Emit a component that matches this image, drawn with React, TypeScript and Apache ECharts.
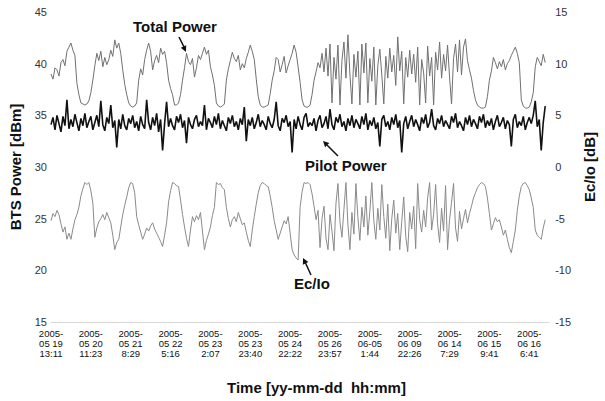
import React, { useEffect, useRef } from 'react';
import * as echarts from 'echarts';

// x-axis tick labels (one every 10 x-units)
const tickLabels = [
  '2005-\n05 19\n13:11', '2005-\n05 20\n11:23', '2005-\n05 21\n8:29', '2005-\n05 22\n5:16',
  '2005-\n05 23\n2:07', '2005-\n05 23\n23:40', '2005-\n05 24\n22:22', '2005-\n05 26\n23:57',
  '2005-\n06-05\n1:44', '2005-\n06 09\n22:26', '2005-\n06 14\n7:29', '2005-\n06 15\n9:41',
  '2005-\n06 16\n6:41',
];

// x-units per sample
const STEP = 0.5;

// BTS total power [dBm] (left axis)
const totalPower = [
  39.0, 38.5, 39.6, 39.4, 38.8, 40.1, 40.4, 39.8, 41.2, 41.6,
  42.0, 41.3, 40.8, 38.1, 37.0, 36.2, 36.1, 36.0, 36.1, 36.4,
  37.2, 38.4, 39.8, 41.0, 40.3, 41.2, 39.7, 40.6, 39.9, 40.4,
  41.3, 40.7, 42.3, 41.5, 42.0, 41.0, 39.4, 38.0, 37.0, 36.2,
  35.9, 35.8, 35.9, 36.2, 38.4, 39.5, 38.9, 40.4, 41.3, 42.0,
  41.2, 39.4, 40.3, 40.8, 40.1, 41.5, 40.9, 41.2, 40.1, 38.4,
  37.6, 37.0, 36.0, 36.0, 36.2, 37.0, 38.4, 39.6, 41.0, 40.2,
  39.9, 40.5, 38.7, 39.6, 40.8, 40.4, 41.0, 41.6, 40.9, 41.3,
  39.7, 38.9, 37.9, 36.2, 35.9, 35.8, 35.9, 36.1, 38.4, 39.5,
  40.3, 41.1, 40.5, 40.2, 40.8, 39.4, 40.0, 39.6, 40.5, 41.1,
  41.8, 41.2, 40.4, 38.5, 36.8, 36.0, 35.8, 35.8, 35.9, 36.0,
  37.1, 38.4, 39.3, 40.6, 40.4, 39.2, 39.9, 40.7, 39.1, 39.8,
  40.4, 41.0, 41.8, 41.1, 39.7, 38.2, 36.5, 35.9, 35.8, 35.8,
  36.0, 37.0, 38.4, 39.2, 40.1, 39.6, 41.0, 39.2, 41.5, 38.8,
  41.9, 36.2, 40.6, 38.5, 41.8, 36.0, 40.3, 42.1, 38.6, 42.8,
  39.0, 36.1, 40.9, 38.7, 41.2, 36.0, 41.9, 39.1, 42.0, 36.2,
  40.5, 38.3, 41.6, 36.0, 39.8, 41.4, 38.9, 36.1, 40.7, 38.6,
  41.5, 39.2, 40.8, 37.9, 42.6, 39.3, 41.2, 36.1, 40.6, 38.7,
  41.3, 39.0, 40.9, 38.2, 41.6, 36.0, 40.4, 39.1, 36.2, 41.7,
  38.8, 40.6, 36.0, 41.1, 39.4, 42.1, 38.6, 40.9, 39.3, 41.8,
  38.7, 36.1, 40.5, 41.9, 39.2, 42.3, 38.9, 41.6, 42.4, 40.3,
  39.4, 38.6, 37.4, 36.5, 36.0, 35.8, 35.7, 35.7, 35.8, 36.8,
  38.4, 39.3, 40.6, 40.1, 39.5, 40.2, 39.7, 40.4, 39.4, 40.0,
  40.3, 40.8, 41.2, 41.6, 41.0, 40.1, 36.5, 35.9, 35.7, 35.7,
  35.8, 36.3, 37.2, 39.7, 40.6, 40.2, 39.8, 40.9, 40.1,
];

// BTS pilot power [dBm] (left axis)
const pilotPower = [
  34.1, 34.8, 33.6, 35.0, 34.2, 33.4, 34.9, 34.0, 36.5, 33.7, 34.6, 33.9, 35.1, 34.3, 33.5, 34.7, 34.0, 35.2, 33.8, 34.4,
  34.9, 33.6, 34.3, 35.0, 33.9, 36.4, 34.1, 33.5, 34.8, 34.2, 36.0, 33.8, 34.5, 31.9, 34.6, 33.7, 35.1, 34.0, 33.6, 34.7,
  34.2, 35.0, 33.8, 34.4, 33.5, 34.9, 34.1, 33.7, 36.5, 34.3, 33.6, 34.8, 34.0, 35.2, 33.4, 34.6, 31.6, 34.2, 36.3, 33.9,
  34.7, 34.0, 33.6, 34.9, 34.3, 35.1, 33.8, 34.5, 32.3, 34.8, 34.1, 33.7, 34.6, 35.0, 33.9, 34.4, 34.0, 36.0, 33.6, 34.7,
  34.3, 33.8, 34.9, 34.1, 35.2, 33.7, 34.5, 34.0, 33.5, 34.8, 34.2, 35.0, 33.9, 34.4, 33.6, 34.7, 34.1, 35.8, 32.5, 34.6,
  34.0, 34.8, 33.7, 34.3, 35.1, 33.9, 34.5, 34.1, 33.6, 34.9, 34.2, 33.8, 34.6, 36.3, 34.0, 33.5, 34.7, 34.3, 35.0, 33.9,
  34.4, 31.4, 34.6, 33.7, 34.9, 34.1, 33.6, 34.8, 35.2, 33.9, 34.3, 34.0, 34.7, 33.5, 34.5, 35.0, 33.8, 34.2, 34.9, 33.7,
  35.6, 34.1, 33.6, 34.8, 34.3, 35.1, 33.9, 34.4, 33.5, 34.7, 34.0, 35.0, 33.8, 34.6, 34.2, 33.7, 34.9, 34.1, 35.2, 33.6,
  34.5, 34.0, 34.8, 33.7, 34.3, 32.0, 34.6, 35.0, 33.9, 34.4, 33.6, 34.8, 34.1, 35.1, 33.8, 34.5, 31.4, 34.2, 34.9, 33.7,
  34.4, 35.0, 33.9, 34.6, 34.1, 33.5, 34.8, 34.2, 35.1, 33.8, 34.3, 35.6, 34.0, 33.6, 34.7, 34.2, 35.0, 33.9, 34.5, 34.1,
  33.7, 34.9, 34.3, 35.2, 33.8, 34.4, 34.0, 33.5, 34.8, 34.1, 35.0, 33.9, 34.6, 34.2, 33.7, 34.9, 34.3, 35.1, 33.8, 34.5,
  34.0, 34.7, 33.6, 34.4, 35.0, 33.9, 34.3, 34.8, 33.7, 34.5, 34.1, 32.0, 34.6, 35.1, 33.8, 34.4, 34.0, 34.9, 33.6, 34.3,
  34.8, 34.2, 35.0, 36.4, 33.9, 34.6, 31.6, 34.3, 35.9,
];

// Ec/Io [dB] (right axis)
const ecIo = [
  -5.2, -4.5, -4.8, -4.2, -4.6, -5.5, -6.3, -5.8, -7.0, -6.4,
  -7.0, -6.0, -5.1, -4.6, -3.9, -2.8, -2.1, -1.5, -1.7, -1.5,
  -2.3, -3.5, -6.8, -5.9, -5.3, -5.0, -4.6, -5.1, -4.4, -4.9,
  -5.4, -6.6, -8.0, -7.3, -7.0, -5.8, -4.6, -3.7, -2.9, -2.0,
  -1.5, -1.6, -2.5, -4.8, -5.6, -6.3, -7.0, -6.5, -5.9, -6.2,
  -5.7, -5.4, -6.0, -6.4, -6.8, -7.2, -7.7, -6.6, -5.4, -3.4,
  -2.3, -1.5, -1.6, -1.8, -1.9, -3.2, -4.6, -5.8, -6.9, -7.7,
  -6.1, -4.8, -5.3, -4.7, -5.1, -4.4, -6.2, -8.0, -7.1, -6.5,
  -5.8, -4.7, -3.9, -1.5, -1.7, -1.6, -2.0, -2.2, -3.9, -5.0,
  -5.8, -5.1, -4.8, -5.3, -4.4, -5.0, -5.6, -5.4, -6.3, -7.1,
  -7.7, -6.1, -4.8, -3.6, -2.5, -1.8, -1.5, -1.6, -1.8, -1.9,
  -2.8, -3.9, -5.2, -6.1, -7.0, -6.4, -5.8, -5.2, -5.5, -4.8,
  -6.4, -8.0, -8.5, -8.8, -9.0, -3.9, -2.4, -1.5, -1.6, -1.5,
  -1.7, -2.6, -3.8, -5.1, -4.2, -7.8, -5.0, -3.8, -6.9, -8.0,
  -4.6, -6.2, -8.1, -3.5, -1.6, -5.3, -6.8, -4.1, -1.5, -5.6,
  -8.0, -4.4, -6.5, -1.6, -4.9, -7.1, -3.9, -5.8, -2.8, -6.6,
  -4.3, -1.5, -5.2, -7.0, -4.0, -6.1, -1.7, -4.8, -6.9, -3.6,
  -8.1, -5.0, -3.2, -6.4, -4.5, -8.0, -5.3, -2.9, -6.7, -8.2,
  -4.4, -6.0, -3.8, -7.9, -1.6, -5.1, -6.3, -4.2, -5.8, -3.0,
  -1.5, -6.1, -4.6, -1.7, -5.5, -7.3, -4.0, -6.2, -1.8, -8.0,
  -5.1, -3.4, -1.6, -5.9, -7.2, -4.3, -6.0, -5.0, -4.1, -5.4,
  -4.5, -3.8, -3.0, -2.5, -2.0, -1.7, -1.5, -1.6, -1.9, -3.0,
  -4.5, -6.1, -5.5, -4.9, -5.3, -5.1, -5.8, -6.6, -6.1, -7.0,
  -7.8, -8.3, -7.2, -6.1, -4.2, -2.8, -1.9, -1.6, -1.5, -1.8,
  -2.2, -3.0, -3.9, -6.1, -6.6, -6.8, -7.0, -5.9, -5.1,
];

const FONT = '"Liberation Sans", Arial, Helvetica, sans-serif';

export default function App() {
  const ref = useRef<HTMLDivElement>(null);

  useEffect(() => {
    if (!ref.current) return;
    const chart = echarts.init(ref.current, null, { renderer: 'svg' });
    const toXY = (arr: number[]) => arr.map((v, i) => [i * STEP, v]);
    const titleStyle = { fontSize: 15, fontWeight: 'bold', color: '#111', fontFamily: FONT };

    chart.setOption({
      animation: false,
      backgroundColor: '#ffffff',
      grid: { left: 49, right: 43.5, top: 12, bottom: 79 },
      xAxis: {
        type: 'value',
        min: 0,
        max: 125,
        interval: 10,
        axisLine: { show: true, onZero: false, lineStyle: { color: '#d0d0d0', type: 'dotted', width: 1 } },
        axisTick: { show: false },
        splitLine: { show: false },
        axisLabel: {
          margin: 6,
          fontSize: 9.5,
          lineHeight: 10,
          color: '#111',
          fontFamily: FONT,
          showMaxLabel: false,
          formatter: (v: number) => {
            const k = v / 10;
            return Number.isInteger(k) && tickLabels[k] ? tickLabels[k] : '';
          },
        },
      },
      yAxis: [
        {
          type: 'value',
          min: 15,
          max: 45,
          interval: 5,
          name: 'BTS Power [dBm]',
          nameLocation: 'middle',
          nameGap: 28,
          nameRotate: 90,
          nameTextStyle: titleStyle,
          axisLine: { show: false },
          axisTick: { show: false },
          splitLine: { show: false },
          axisLabel: { margin: 4, fontSize: 11, color: '#333', fontFamily: FONT },
        },
        {
          type: 'value',
          min: -15,
          max: 15,
          interval: 5,
          position: 'right',
          name: 'Ec/Io [dB]',
          nameLocation: 'middle',
          nameGap: 31,
          nameRotate: 90,
          nameTextStyle: titleStyle,
          axisLine: { show: false },
          axisTick: { show: false },
          splitLine: { show: false },
          axisLabel: { margin: 6, fontSize: 11, color: '#333', fontFamily: FONT },
        },
      ],
      series: [
        {
          name: 'Ec/Io',
          type: 'line',
          yAxisIndex: 1,
          data: toXY(ecIo),
          showSymbol: false,
          symbol: 'none',
          lineStyle: { color: '#8a8a8a', width: 1 },
        },
        {
          name: 'Total Power',
          type: 'line',
          yAxisIndex: 0,
          data: toXY(totalPower),
          showSymbol: false,
          symbol: 'none',
          lineStyle: { color: '#707070', width: 1 },
        },
        {
          name: 'Pilot Power',
          type: 'line',
          yAxisIndex: 0,
          data: toXY(pilotPower),
          showSymbol: false,
          symbol: 'none',
          lineStyle: { color: '#111111', width: 1.6 },
        },
      ],
      graphic: [
        {
          type: 'text', left: 133, top: 19,
          style: { text: 'Total Power', font: `bold 15px ${FONT}`, fill: '#111' },
        },
        { type: 'line', shape: { x1: 179, y1: 37, x2: 184, y2: 47 }, style: { stroke: '#111', lineWidth: 1.5 } },
        { type: 'polygon', shape: { points: [[186, 52], [186.2, 45.2], [180.8, 47.8]] }, style: { fill: '#111' } },

        {
          type: 'text', left: 305, top: 158,
          style: { text: 'Pilot Power', font: `bold 15px ${FONT}`, fill: '#111' },
        },
        { type: 'line', shape: { x1: 338, y1: 156, x2: 327, y2: 145 }, style: { stroke: '#111', lineWidth: 1.5 } },
        { type: 'polygon', shape: { points: [[323, 141], [329.3, 143.1], [325.1, 147.3]] }, style: { fill: '#111' } },

        {
          type: 'text', left: 294, top: 276,
          style: { text: 'Ec/Io', font: `bold 15px ${FONT}`, fill: '#111' },
        },
        { type: 'line', shape: { x1: 311, y1: 275, x2: 305.5, y2: 263 }, style: { stroke: '#111', lineWidth: 1.5 } },
        { type: 'polygon', shape: { points: [[303, 258], [308.3, 262.1], [302.9, 264.7]] }, style: { fill: '#111' } },

        {
          type: 'text', left: 227, top: 380,
          style: { text: 'Time [yy-mm-dd  hh:mm]', font: `bold 15px ${FONT}`, fill: '#111' },
        },
      ],
    });

    return () => {
      chart.dispose();
    };
  }, []);

  return (
    <div
      ref={ref}
      style={{ position: 'absolute', left: 0, top: 0, width: 605, height: 401, background: '#fff' }}
    />
  );
}
